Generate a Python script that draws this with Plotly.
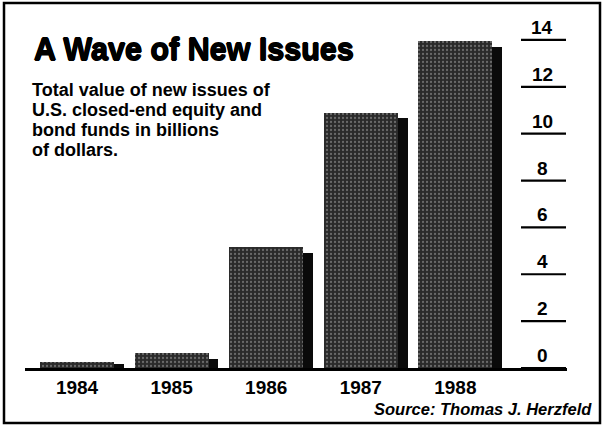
import plotly.graph_objects as go

# ---- data ----
years = ["1984", "1985", "1986", "1987", "1988"]
values = [0.27, 0.65, 5.15, 10.9, 13.95]   # billions of dollars
y_ticks = [0, 2, 4, 6, 8, 10, 12, 14]
title_text = "A Wave of New Issues"
subtitle_lines = ["Total value of new issues of", "U.S. closed-end equity and",
                  "bond funds in billions", "of dollars."]
source_text = "Source: Thomas J. Herzfeld"

# ---- layout geometry (pixels) ----
FIG_W, FIG_H = 603, 427
L, R, T, B = 25, 567, 28, 368
W, H = R - L, B - T


def px(x):
    return (x - L) / W


def py(y):
    return (B - y) / H


FONT = "Liberation Sans, Arial, Helvetica, sans-serif"
HEAVY = ("0.7px 0 0 black, -0.7px 0 0 black, 0 0.7px 0 black, 0 -0.7px 0 black")

xpos = list(range(len(years)))
bar_w = 0.78
shadow_dx = 0.105
shadow_drop = 0.25

fig = go.Figure()
# shadow bars
fig.add_trace(go.Bar(
    x=xpos, y=[max(v - shadow_drop, 0.15) for v in values],
    width=bar_w, offset=-bar_w / 2 + shadow_dx,
    marker=dict(color="#0a0a0a", line=dict(width=0)),
    hoverinfo="skip", showlegend=False,
))
# textured bars
fig.add_trace(go.Bar(
    x=xpos, y=values,
    width=bar_w, offset=-bar_w / 2,
    marker=dict(
        color="#333333",
        line=dict(width=0),
        pattern=dict(shape=".", fgcolor="#aaaaaa", bgcolor="#2a2a2a",
                     size=4, solidity=0.25, fillmode="overlay"),
    ),
    showlegend=False,
))

shapes = []
annotations = []
# y tick lines + labels on the right
for t in y_ticks:
    shapes.append(dict(type="line", xref="paper", yref="y",
                       x0=px(521), x1=px(566), y0=t, y1=t,
                       line=dict(color="black", width=2.2)))
    annotations.append(dict(xref="paper", yref="y", x=px(542), y=t,
                            text=f"<b>{t}</b>", showarrow=False,
                            xanchor="center", yanchor="bottom", yshift=0,
                            font=dict(family=FONT, size=19, color="black")))

# border
shapes.append(dict(type="rect", xref="paper", yref="paper",
                   x0=px(4), x1=px(600), y0=py(423), y1=py(3),
                   line=dict(color="black", width=2.5)))

# title
annotations.append(dict(xref="paper", yref="paper", x=px(32), y=py(49),
                        text=f"<b>{title_text}</b>", showarrow=False,
                        xanchor="left", yanchor="middle",
                        font=dict(family=FONT, size=30.5, color="black",
                                  weight=700, shadow=HEAVY)))
# subtitle, one annotation per line for tight leading
for i, line in enumerate(subtitle_lines):
    annotations.append(dict(xref="paper", yref="paper", x=px(31), y=py(89.5 + 20.3 * i),
                            text=f"<b>{line}</b>", showarrow=False,
                            xanchor="left", yanchor="middle", align="left",
                            borderpad=0,
                            font=dict(family=FONT, size=18, color="black")))
# source
annotations.append(dict(xref="paper", yref="paper", x=px(594), y=py(409),
                        text=f"<b><i>{source_text}</i></b>", showarrow=False,
                        xanchor="right", yanchor="middle",
                        font=dict(family=FONT, size=16.5, color="black")))

fig.update_layout(
    width=FIG_W, height=FIG_H,
    margin=dict(l=L, r=FIG_W - R, t=T, b=FIG_H - B, pad=0),
    paper_bgcolor="white", plot_bgcolor="white",
    barmode="overlay", bargap=0,
    shapes=shapes, annotations=annotations,
    xaxis=dict(range=[-0.55, 5.18], tickmode="array", tickvals=xpos, ticktext=years,
               showgrid=False, zeroline=False, showline=True, linecolor="black",
               linewidth=2.5, ticks="", ticklabelstandoff=0,
               tickfont=dict(family=FONT, size=19, color="black", weight=700),
               fixedrange=True),
    yaxis=dict(range=[0, 14.51], visible=False, fixedrange=True),
)

fig.write_html("out.html")
